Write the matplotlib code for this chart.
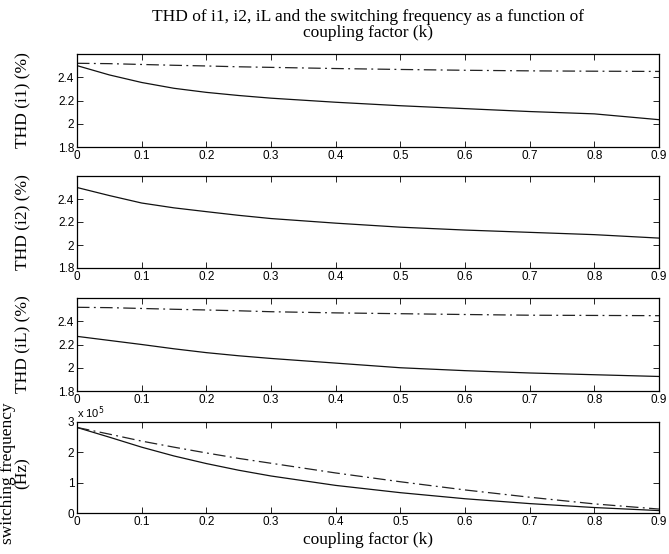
import matplotlib
matplotlib.use("Agg")
import matplotlib.pyplot as plt
import numpy as np

k = [0, 0.05, 0.1, 0.15, 0.2, 0.25, 0.3, 0.4, 0.5, 0.6, 0.7, 0.8, 0.9]

thd_i1_solid = [2.50, 2.42, 2.355, 2.305, 2.27, 2.243, 2.22, 2.185, 2.155, 2.13, 2.105, 2.085, 2.035]
thd_i1_dash = [2.52, 2.517, 2.51, 2.503, 2.497, 2.49, 2.485, 2.475, 2.467, 2.46, 2.455, 2.452, 2.45]

thd_i2_solid = [2.50, 2.43, 2.365, 2.323, 2.29, 2.258, 2.23, 2.19, 2.155, 2.13, 2.11, 2.09, 2.06]

thd_iL_solid = [2.27, 2.235, 2.20, 2.163, 2.13, 2.103, 2.08, 2.04, 2.00, 1.975, 1.955, 1.94, 1.925]
thd_iL_dash = [2.52, 2.517, 2.51, 2.503, 2.497, 2.49, 2.482, 2.472, 2.465, 2.458, 2.452, 2.45, 2.448]

fsw_solid = [2.82e5, 2.50e5, 2.17e5, 1.88e5, 1.63e5, 1.41e5, 1.22e5, 0.91e5, 0.67e5, 0.47e5, 0.31e5, 0.18e5, 0.08e5]
fsw_dash = [2.82e5, 2.60e5, 2.37e5, 2.17e5, 1.98e5, 1.80e5, 1.64e5, 1.32e5, 1.03e5, 0.76e5, 0.52e5, 0.30e5, 0.13e5]

xticks = [0, 0.1, 0.2, 0.3, 0.4, 0.5, 0.6, 0.7, 0.8, 0.9]
xticklabels = ["0", "0.1", "0.2", "0.3", "0.4", "0.5", "0.6", "0.7", "0.8", "0.9"]
thd_yticks = [1.8, 2, 2.2, 2.4]
thd_yticklabels = ["1.8", "2", "2.2", "2.4"]
fsw_yticks = [0, 1, 2, 3]

title_text = "THD of i1, i2, iL and the switching frequency as a function of\ncoupling factor (k)"
ylabels = ["THD (i1) (%)", "THD (i2) (%)", "THD (iL) (%)", "switching frequency\n(Hz)"]
xlabel_text = "coupling factor (k)"

W, H = 669, 554
fig = plt.figure(figsize=(W / 100, H / 100), dpi=100)

serif = "Liberation Serif"
sans = "Liberation Sans"
tick_fs = 8.5
label_fs = 12.5

left = 77 / W
width = 582 / W
boxes = [(54, 147), (176, 268), (298, 391), (422, 513)]
axes = []
for (top, bot) in boxes:
    ax = fig.add_axes([left, 1 - bot / H, width, (bot - top) / H])
    axes.append(ax)

line_kw = dict(color="#111111", lw=0.9)
dash_kw = dict(color="#222222", lw=0.9, linestyle=(0, (10, 3.5, 1.5, 3.5)))

kk = np.array(k)
axes[0].plot(kk, thd_i1_solid, **line_kw)
axes[0].plot(kk, thd_i1_dash, **dash_kw)
axes[1].plot(kk, thd_i2_solid, **line_kw)
axes[2].plot(kk, thd_iL_solid, **line_kw)
axes[2].plot(kk, thd_iL_dash, **dash_kw)
axes[3].plot(kk, np.array(fsw_solid) / 1e5, **line_kw)
axes[3].plot(kk, np.array(fsw_dash) / 1e5, **dash_kw)

for i, ax in enumerate(axes):
    ax.set_xlim(0, 0.9)
    ax.set_xticks(xticks)
    ax.set_xticklabels(xticklabels, fontfamily=sans, fontsize=tick_fs)
    if i < 3:
        ax.set_ylim(1.8, 2.6)
        ax.set_yticks(thd_yticks)
        ax.set_yticklabels(thd_yticklabels, fontfamily=sans, fontsize=tick_fs)
    else:
        ax.set_ylim(0, 3)
        ax.set_yticks(fsw_yticks)
        ax.set_yticklabels([str(v) for v in fsw_yticks], fontfamily=sans, fontsize=tick_fs)
    ax.tick_params(direction="in", top=True, right=True, length=4, width=0.6, pad=2, colors="black")
    for s in ax.spines.values():
        s.set_linewidth(0.9)
    ax.set_ylabel(ylabels[i], fontfamily=serif, fontsize=label_fs, linespacing=0.95)
    ax.yaxis.set_label_coords(-0.079, 0.5 if i < 3 else 0.44)

axes[3].text(0.0, 1.012, r"x 10$^5$", transform=axes[3].transAxes, fontfamily=sans,
             fontsize=8, ha="left", va="bottom")

axes[0].set_title(title_text, fontfamily=serif, fontsize=label_fs, pad=12, linespacing=1.0)
axes[3].set_xlabel(xlabel_text, fontfamily=serif, fontsize=label_fs, labelpad=3)

fig.savefig("out.png", dpi=100)
